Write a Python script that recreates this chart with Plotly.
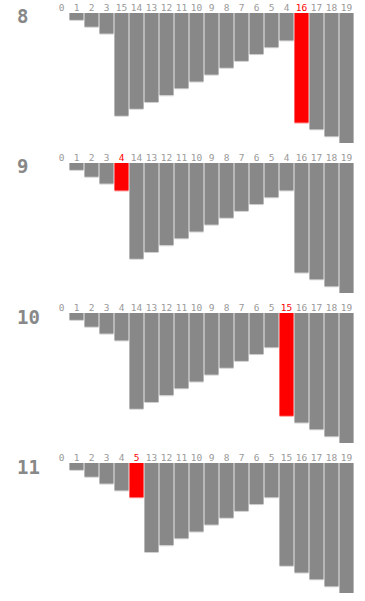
import plotly.graph_objects as go

step_labels = ["8", "9", "10", "11"]
row8 = [0, 1, 2, 3, 15, 14, 13, 12, 11, 10, 9, 8, 7, 6, 5, 4, 16, 17, 18, 19]
row9 = [0, 1, 2, 3, 4, 14, 13, 12, 11, 10, 9, 8, 7, 6, 5, 4, 16, 17, 18, 19]
row10 = [0, 1, 2, 3, 4, 14, 13, 12, 11, 10, 9, 8, 7, 6, 5, 15, 16, 17, 18, 19]
row11 = [0, 1, 2, 3, 4, 5, 13, 12, 11, 10, 9, 8, 7, 6, 5, 15, 16, 17, 18, 19]
rows = [row8, row9, row10, row11]
highlight = [16, 4, 15, 5]  # index of the red bar in each row

W, H = 365, 601
fig = go.Figure()
FONT = "DejaVu Sans Mono"
x_dom = [54 / W, 354 / W]
unit = 130 / 19.0
label_y = -0.6

for i, (vals, hi) in enumerate(zip(rows, highlight)):
    idx = list(range(len(vals)))
    ax = "" if i == 0 else str(i + 1)
    xa, ya = "x" + ax, "y" + ax
    base_col = ["#888888"] * len(vals)
    edge_col = ["#d0d0d0"] * len(vals)
    txt_col = ["#999999"] * len(vals)
    base_col[hi] = "#ff0000"
    edge_col[hi] = "#ff9090"
    txt_col[hi] = "#ff0000"
    # light bottom edge
    fig.add_trace(go.Bar(x=idx, y=[v + 0.15 if v > 0 else 0 for v in vals],
                         marker=dict(color=edge_col, line=dict(width=0)),
                         xaxis=xa, yaxis=ya, showlegend=False, hoverinfo="skip"))
    fig.add_trace(go.Bar(x=idx, y=vals,
                         marker=dict(color=base_col, line=dict(width=0)),
                         xaxis=xa, yaxis=ya, showlegend=False))
    fig.add_trace(go.Scatter(x=idx, y=[label_y] * len(vals), mode="text",
                             text=[str(v) for v in vals],
                             textfont=dict(family=FONT, size=9.5, color=txt_col),
                             textposition="middle center", cliponaxis=False,
                             xaxis=xa, yaxis=ya, showlegend=False, hoverinfo="skip"))
    top_px = 13 + 150 * i + label_y * unit
    bot_px = 143 + 150 * i
    fig.layout["xaxis" + ax] = dict(domain=x_dom, range=[-0.5, 19.5], visible=False,
                                    anchor=ya, fixedrange=True)
    fig.layout["yaxis" + ax] = dict(domain=[1 - bot_px / H, 1 - top_px / H],
                                    range=[19, label_y], visible=False,
                                    anchor=xa, fixedrange=True)
    fig.add_annotation(text="<b>%s</b>" % step_labels[i], xref="paper", yref="paper",
                       x=15 / W, y=1 - (16.5 + 150 * i) / H,
                       xanchor="left", yanchor="middle",
                       showarrow=False, font=dict(family=FONT, size=19, color="#888888"))

fig.update_layout(width=W, height=H, margin=dict(l=0, r=0, t=0, b=0),
                  barmode="overlay", bargap=1 / 15, plot_bgcolor="white",
                  paper_bgcolor="white", showlegend=False)
fig.write_html("out.html", config={"displayModeBar": False},
               post_script="document.body.style.margin='0';document.body.style.overflow='hidden';")
